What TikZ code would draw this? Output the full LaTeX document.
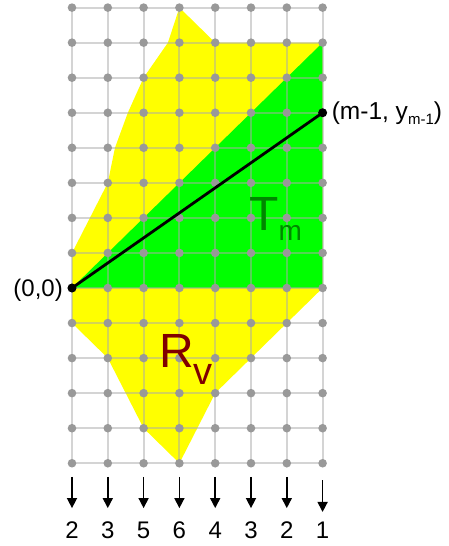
\documentclass[tikz,border=0pt]{standalone}
\usepackage{fontspec}
\setmainfont{Liberation Sans}
\usetikzlibrary{arrows.meta}
\definecolor{ylw}{RGB}{255,255,0}
\definecolor{grn}{RGB}{0,255,0}
\definecolor{tcol}{RGB}{0,135,0}
\definecolor{rcol}{RGB}{128,0,0}
\definecolor{gridc}{RGB}{170,170,170}
\definecolor{dotc}{RGB}{153,153,153}
\begin{document}
\begin{tikzpicture}[x=35.8pt,y=35.05pt,
  gridline/.style={draw=gridc,draw opacity=0.5,line width=2pt},
  gdot/.style={fill=dotc},
  lbl/.style={font=\fontsize{24}{28}\selectfont,inner sep=0pt},
  biglbl/.style={font=\fontsize{48}{50}\selectfont,inner sep=0pt,anchor=base west},
  downarrow/.style={-{Triangle[width=10pt,length=10pt]},line width=1.5pt}]
\useasboundingbox (-72pt,-258pt) rectangle (377pt,288pt);
% regions
\fill[ylw] (3,8) -- (2.68,7) -- (2,6) -- (1.56,5) -- (1.2,4) -- (1,3) -- (0,1) -- (0,-1)
  -- (1,-2) -- (2,-4) -- (3,-5) -- (4,-3) -- (7,0) -- (7,7) -- (4,7) -- cycle;
\fill[grn] (0,0) -- (7,7) -- (7,0) -- cycle;
% grid
\foreach \j in {-5,...,8} \draw[gridline] (0,\j) -- (7,\j);
\foreach \i in {0,...,7} \draw[gridline] (\i,-5) -- (\i,8);
\foreach \i in {0,...,7} \foreach \j in {-5,...,8} \fill[gdot] (\i,\j) circle (4.3pt);
% segment
\coordinate (O) at (0,0);
\coordinate (P) at (7,5);
\draw[line width=2.8pt] (O) -- (P);
\fill (O) circle (4.5pt);
\fill (P) circle (4.5pt);
% labels
\node[lbl,anchor=base east] (l0) at ([xshift=-9pt,yshift=-8.5pt]O) {(0,0)};
\node[lbl,anchor=base west,font=\fontsize{24.5}{28}\selectfont] (lp) at ([xshift=9pt,yshift=-7pt]P) {(m-1, y\raisebox{-5pt}{\fontsize{15}{15}\selectfont m-1})};
\node[biglbl,text=tcol] (tm) at ([xshift=-2pt]5.0,1.65) {T\raisebox{-10pt}{\fontsize{28}{28}\selectfont m}};
\node[biglbl,text=rcol] (rv) at (2.43,-2.28) {R\raisebox{-17pt}{\fontsize{38}{38}\selectfont v}};
% arrows and numbers
\foreach \n [count=\k from 0] in {2,3,5,6,4,3,2} {
  \node[lbl,anchor=base] (n\k) at (\k,-7.15) {\n};
  \coordinate (s\k) at (\k,-5.39);
  \coordinate (e\k) at (\k,-6.28);
  \draw[downarrow] (s\k) -- (e\k);
}
\node[lbl,anchor=base] (n7) at (7,-7.15) {1};
\coordinate (s7) at (7,-5.48);
\coordinate (e7) at (7,-6.39);
\draw[downarrow] (s7) -- (e7);
\end{tikzpicture}
\end{document}
